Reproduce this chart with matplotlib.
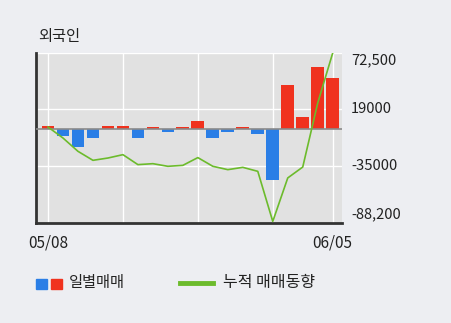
import matplotlib.pyplot as plt
import matplotlib.patches as mpatches
import matplotlib.lines as mlines
import numpy as np

plt.rcParams['font.family'] = ['Noto Sans CJK KR', 'DejaVu Sans']

# 일별 매매 (외국인)
daily = [2500, -7000, -17500, -8600, 2500, 2500, -8900, 1600, -3200, 1600,
         7300, -8900, -3200, 1600, -4500, -49000, 42300, 11100, 59500, 49000]
# 누적 매매동향
cumul = [1900, -8600, -21300, -29900, -27700, -24500, -34000, -33100, -35600, -34700,
         -27300, -35600, -38800, -36600, -40400, -88200, -46700, -36300, 24800, 72500]
xlabels = {0: '05/08', 19: '06/05'}
ytick_vals = [72500, 19000, -35000, -88200]
ytick_txt = ['72,500', '19000', '-35000', '-88,200']

red = '#f0321e'
blue = '#2a7ee6'
green = '#6cbb2c'
txt = '#222222'

fig = plt.figure(figsize=(4.51, 3.23), dpi=100, facecolor='#edeef2')
ax = fig.add_axes([36 / 451, 1 - 223 / 323, 306 / 451, 170 / 323])
ax.set_facecolor('#e1e1e1')

x = np.arange(len(daily))
colors = [red if v >= 0 else blue for v in daily]
ax.bar(x, daily, width=0.85, color=colors, zorder=3)
ax.axhline(0, color='#8a8a8a', linewidth=1.2, zorder=4)
ax.plot(x, cumul, color=green, linewidth=1.2, zorder=5)

# 격자
for gx in [0, 5, 10, 15, 19]:
    ax.axvline(gx, color='white', linewidth=1, zorder=1)
for gy in [19000, -35000, 72500]:
    ax.axhline(gy, color='white', linewidth=1, zorder=1)

ax.set_xlim(-0.8, 19.62)
ax.set_ylim(-89700, 72500)

for s in ['top', 'right']:
    ax.spines[s].set_visible(False)
for s in ['left', 'bottom']:
    ax.spines[s].set_color('#333333')
    ax.spines[s].set_linewidth(2)

ax.set_yticks([])
ax.set_xticks(list(xlabels.keys()))
ax.set_xticklabels(list(xlabels.values()), fontsize=11, color=txt)
ax.tick_params(axis='x', length=0, pad=8)

vas = ['top', 'center', 'center', 'bottom']
for v, t, va in zip(ytick_vals, ytick_txt, vas):
    ax.text(1.03, v, t, transform=ax.get_yaxis_transform(), ha='left', va=va,
            fontsize=10.6, color=txt)

fig.text(38 / 451, 1 - 37 / 323, '외국인', fontsize=11, color=txt, va='center')

# 범례
fig.patches.append(mpatches.Rectangle((36 / 451, 1 - 289 / 323), 11 / 451, 10 / 323,
                                      color=blue, transform=fig.transFigure))
fig.patches.append(mpatches.Rectangle((51 / 451, 1 - 289 / 323), 11 / 451, 10 / 323,
                                      color=red, transform=fig.transFigure))
fig.text(69 / 451, 1 - 283 / 323, '일별매매', fontsize=11, color=txt, va='center')
fig.lines.append(mlines.Line2D([180 / 451, 213 / 451], [1 - 283 / 323, 1 - 283 / 323],
                               color=green, linewidth=3.5, transform=fig.transFigure))
fig.text(223 / 451, 1 - 283 / 323, '누적 매매동향', fontsize=11.5, color=txt, va='center')

fig.savefig('out.png', dpi=100, facecolor=fig.get_facecolor())
